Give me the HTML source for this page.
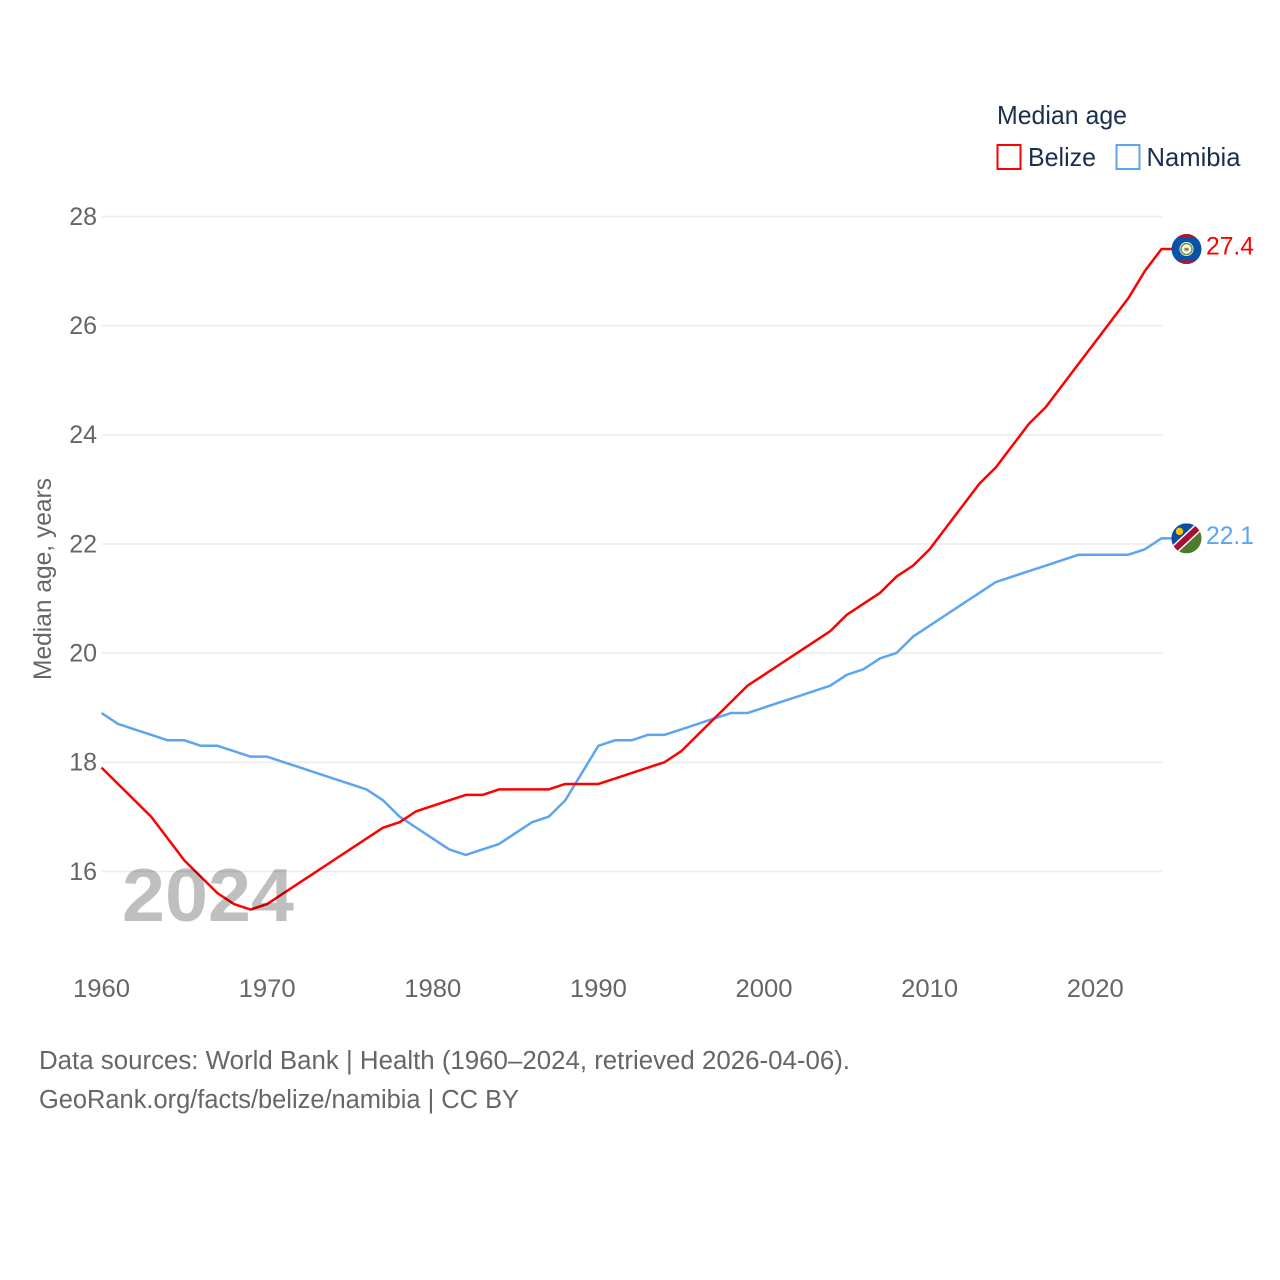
<!DOCTYPE html>
<html lang="en">
<head>
<meta charset="utf-8">
<title>Median age: Belize and Namibia</title>
<style>
html,body{margin:0;padding:0;background:#fff;}
svg{display:block;}
text{font-family:"Liberation Sans",sans-serif;}
</style>
</head>
<body>
<svg id="chart" xmlns="http://www.w3.org/2000/svg" width="1280" height="1280" viewBox="0 0 1280 1280">
  <rect x="0" y="0" width="1280" height="1280" fill="#ffffff"/>
  <defs>
    <clipPath id="flag-clip"><circle cx="0" cy="0" r="15"/></clipPath>
  </defs>
  <g id="grid"></g>
  <g id="y-ticks"></g>
  <g id="x-ticks"></g>
  <text transform="translate(51,680) rotate(-90)" font-size="25" fill="#666666" textLength="202" lengthAdjust="spacingAndGlyphs">Median age, years</text>
  <path id="line-namibia" fill="none" stroke="#5ea4ee" stroke-width="2.5" stroke-linejoin="round"/>
  <path id="line-belize" fill="none" stroke="#ff0000" stroke-width="2.5" stroke-linejoin="round"/>
  <text id="year-watermark" x="122" y="921" font-size="75" font-weight="700" fill="#000000" fill-opacity="0.25" textLength="172" lengthAdjust="spacingAndGlyphs">2024</text>

  <g id="flag-belize" clip-path="url(#flag-clip)">
    <rect x="-15" y="-15" width="30" height="30" fill="#0a52a8"/>
    <rect x="-15" y="-15" width="30" height="3.5" fill="#b3142c"/>
    <rect x="-15" y="11.5" width="30" height="3.5" fill="#b3142c"/>
    <circle r="7" fill="#ffffff"/>
    <circle r="5.5" fill="none" stroke="#6f9a4a" stroke-width="1.6"/>
    <circle r="3" fill="#efe3b0"/>
    <rect x="-2" y="-1" width="4" height="2.5" fill="#8a7a4a"/>
  </g>
  <g id="flag-namibia" clip-path="url(#flag-clip)">
    <rect x="-15" y="-15" width="30" height="30" fill="#4f7a2e"/>
    <polygon points="-15,-15 15,-15 -15,15" fill="#0a4ea2"/>
    <line x1="-15" y1="14" x2="15" y2="-14" stroke="#ffffff" stroke-width="9"/>
    <line x1="-15" y1="14" x2="15" y2="-14" stroke="#a80f35" stroke-width="6"/>
    <circle cx="-7" cy="-7" r="3.7" fill="#f5c518"/>
  </g>
  <text id="value-belize" x="1206" font-size="25" fill="#ff0000" textLength="48" lengthAdjust="spacingAndGlyphs"></text>
  <text id="value-namibia" x="1206" font-size="25" fill="#5ea4ee" textLength="48" lengthAdjust="spacingAndGlyphs"></text>

  <g>
    <text x="997" y="124" font-size="26" fill="#1a2f4f" textLength="130" lengthAdjust="spacingAndGlyphs">Median age</text>
    <rect x="997.5" y="145" width="23" height="24" fill="none" stroke="#ff0000" stroke-width="2"/>
    <text x="1028" y="166" font-size="26" fill="#1a2f4f" textLength="68" lengthAdjust="spacingAndGlyphs">Belize</text>
    <rect x="1116.5" y="145" width="23" height="24" fill="none" stroke="#5ea4ee" stroke-width="2"/>
    <text x="1146.5" y="166" font-size="26" fill="#1a2f4f" textLength="94" lengthAdjust="spacingAndGlyphs">Namibia</text>
  </g>

  <text x="39" y="1069" font-size="25.5" fill="#666666" textLength="811" lengthAdjust="spacingAndGlyphs">Data sources: World Bank | Health (1960–2024, retrieved 2026-04-06).</text>
  <text x="39" y="1108" font-size="25.5" fill="#666666" textLength="480" lengthAdjust="spacingAndGlyphs">GeoRank.org/facts/belize/namibia | CC BY</text>
</svg>
<script>
const firstYear = 1960;
const yTickValues = [16, 18, 20, 22, 24, 26, 28];
const xTickYears = [1960, 1970, 1980, 1990, 2000, 2010, 2020];
const belizeValues = [
  17.9, 17.6, 17.3, 17.0, 16.6, 16.2, 15.9, 15.6, 15.4, 15.3,
  15.4, 15.6, 15.8, 16.0, 16.2, 16.4, 16.6, 16.8, 16.9, 17.1,
  17.2, 17.3, 17.4, 17.4, 17.5, 17.5, 17.5, 17.5, 17.6, 17.6,
  17.6, 17.7, 17.8, 17.9, 18.0, 18.2, 18.5, 18.8, 19.1, 19.4,
  19.6, 19.8, 20.0, 20.2, 20.4, 20.7, 20.9, 21.1, 21.4, 21.6,
  21.9, 22.3, 22.7, 23.1, 23.4, 23.8, 24.2, 24.5, 24.9, 25.3,
  25.7, 26.1, 26.5, 27.0, 27.4
];
const namibiaValues = [
  18.9, 18.7, 18.6, 18.5, 18.4, 18.4, 18.3, 18.3, 18.2, 18.1,
  18.1, 18.0, 17.9, 17.8, 17.7, 17.6, 17.5, 17.3, 17.0, 16.8,
  16.6, 16.4, 16.3, 16.4, 16.5, 16.7, 16.9, 17.0, 17.3, 17.8,
  18.3, 18.4, 18.4, 18.5, 18.5, 18.6, 18.7, 18.8, 18.9, 18.9,
  19.0, 19.1, 19.2, 19.3, 19.4, 19.6, 19.7, 19.9, 20.0, 20.3,
  20.5, 20.7, 20.9, 21.1, 21.3, 21.4, 21.5, 21.6, 21.7, 21.8,
  21.8, 21.8, 21.8, 21.9, 22.1
];

const SVG_NS = 'http://www.w3.org/2000/svg';
function xScale(year) { return 101.5 + (year - 1960) * 16.5625; }
function yScale(value) { return 871.3 - (value - 16) * 54.583; }

function linePath(values) {
  let d = '';
  values.forEach(function (v, i) {
    d += (i === 0 ? 'M' : 'L') + xScale(firstYear + i).toFixed(2) + ' ' + yScale(v).toFixed(2);
  });
  const last = values[values.length - 1];
  d += 'L1172 ' + yScale(last).toFixed(2);
  return d;
}

const gridGroup = document.getElementById('grid');
const yTickGroup = document.getElementById('y-ticks');
yTickValues.forEach(function (value) {
  const line = document.createElementNS(SVG_NS, 'line');
  
  
  line.setAttribute('x1', 102);
  line.setAttribute('x2', 1162);
  line.setAttribute('y1', yScale(value) + 0.2);
  line.setAttribute('y2', yScale(value) + 0.2);
  line.setAttribute('stroke', '#ebebeb');
  line.setAttribute('stroke-width', 1.5);
  gridGroup.appendChild(line);

  const label = document.createElementNS(SVG_NS, 'text');
  
  
  label.setAttribute('x', 97);
  label.setAttribute('y', yScale(value) + 8.5);
  label.setAttribute('text-anchor', 'end');
  label.setAttribute('font-size', 25);
  label.setAttribute('fill', '#666666');
  label.textContent = String(value);
  yTickGroup.appendChild(label);
});

const xTickGroup = document.getElementById('x-ticks');
xTickYears.forEach(function (year) {
  const label = document.createElementNS(SVG_NS, 'text');
  
  
  label.setAttribute('x', xScale(year));
  label.setAttribute('y', 997);
  label.setAttribute('text-anchor', 'middle');
  label.setAttribute('font-size', 25);
  label.setAttribute('fill', '#666666');
  label.setAttribute('textLength', 57);
  label.setAttribute('lengthAdjust', 'spacingAndGlyphs');
  label.textContent = String(year);
  xTickGroup.appendChild(label);
});

document.getElementById('line-belize').setAttribute('d', linePath(belizeValues));
document.getElementById('line-namibia').setAttribute('d', linePath(namibiaValues));

const belizeLast = belizeValues[belizeValues.length - 1];
const namibiaLast = namibiaValues[namibiaValues.length - 1];
document.getElementById('flag-belize').setAttribute('transform', 'translate(1186.5,' + yScale(belizeLast) + ')');
document.getElementById('flag-namibia').setAttribute('transform', 'translate(1186.5,' + yScale(namibiaLast) + ')');
const belizeLabel = document.getElementById('value-belize');
belizeLabel.setAttribute('y', yScale(belizeLast) + 5.5);
belizeLabel.textContent = belizeLast.toFixed(1);
const namibiaLabel = document.getElementById('value-namibia');
namibiaLabel.setAttribute('y', yScale(namibiaLast) + 5.5);
namibiaLabel.textContent = namibiaLast.toFixed(1);
</script>
</body>
</html>
